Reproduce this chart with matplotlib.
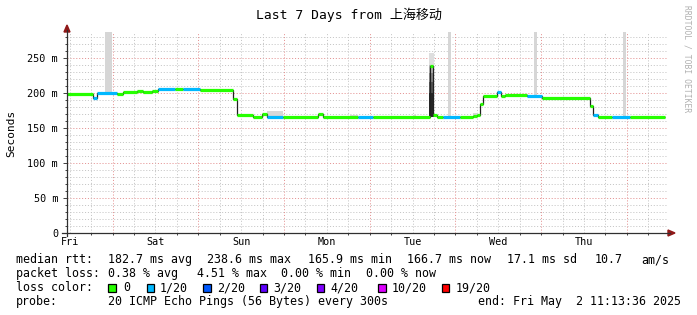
import matplotlib
matplotlib.use("Agg")
import matplotlib.pyplot as plt
from matplotlib.patches import Polygon, Rectangle
import numpy as np

W, H = 697, 315
mono = ['DejaVu Sans Mono', 'Noto Sans CJK SC']
plt.rcParams['font.family'] = mono

# hours since start of graph (Fri Apr 25 11:13:36)
seg_start = [0.0, 7.28, 8.4, 14.0, 15.68, 19.6, 21.28, 23.8, 25.48, 30.24,
             32.48, 37.24, 46.48, 47.6, 52.08, 54.6, 56.0, 60.48, 70.28, 71.68,
             81.48, 85.68, 101.64, 102.48, 103.6, 105.28, 110.04, 113.68, 114.8, 115.64,
             116.48, 120.4, 121.52, 122.64, 128.8, 133.0, 146.44, 147.28, 148.68, 152.6,
             157.64]
seg_median = [199, 193, 200, 199, 202, 203, 202, 203, 205, 205,
              205, 204, 192, 169, 166, 170, 165, 165, 170, 165,
              165, 165, 238, 168, 165, 165, 165, 167, 169, 184,
              195, 202, 195, 197, 196, 193, 181, 169, 166, 166,
              166]
seg_loss = [0, 1, 1, 0, 0, 0, 0, 0, 1, 0,
            1, 0, 0, 0, 0, 0, 1, 0, 0, 0,
            1, 0, 0, 0, 0, 1, 0, 0, 0, 0,
            0, 1, 0, 0, 1, 0, 0, 1, 0, 1,
            0]
data_end = 167.5

# smoke (spread of pings)
smoke_start = [10.64, 106.6, 130.8, 155.7, 101.4, 101.4, 101.4, 101.4, 101.4,
               56.0, 79.2, 96.8, 113.7, 33.0]
smoke_end = [12.5, 107.5, 131.6, 156.5, 102.8, 102.8, 102.8, 102.8, 102.8,
             60.5, 81.5, 97.6, 115.0, 35.0]
smoke_lo = [199, 165, 196, 166, 240, 228, 215, 200, 165,
            165, 165, 165, 167, 205]
smoke_hi = [300, 300, 300, 300, 257, 240, 228, 215, 200,
            174, 168.5, 168.5, 171, 207.5]
smoke_shade = ['#d6d6d6', '#d6d6d6', '#d6d6d6', '#d6d6d6', '#dedede', '#b8b8b8',
               '#8a8a8a', '#565656', '#262626',
               '#d8d8d8', '#d8d8d8', '#d8d8d8', '#d8d8d8', '#dcdcdc']

loss_colors = ['#26ff00', '#00b8ff', '#0059ff', '#5e00ff', '#7e00ff', '#dd00ff', '#ff0000']
loss_labels = ['0', '1/20', '2/20', '3/20', '4/20', '10/20', '19/20']
day_labels = ['Fri', 'Sat', 'Sun', 'Mon', 'Tue', 'Wed', 'Thu']
y_ticks = [0, 50, 100, 150, 200, 250]
y_ticklabels = ['0', '50 m', '100 m', '150 m', '200 m', '250 m']


def fx(px):
    return px / W


def fy(py):
    return 1 - py / H


fig = plt.figure(figsize=(W / 100, H / 100), dpi=100)
fig.patch.set_facecolor('white')
ax = fig.add_axes([fx(67), fy(233), (667 - 67) / W, (233 - 32) / H])
ax.set_xlim(0, 168)
ax.set_ylim(0, 287)
for s in ax.spines.values():
    s.set_visible(False)

# grid
noon0 = 0.773
sixes = np.arange(noon0, 168, 6)
mids = np.arange(noon0 + 12, 168, 24)
gkw = dict(linewidth=0.7, linestyle=(0, (1.1, 1.9)), zorder=0)
for v in np.arange(10, 287, 10):
    c = '#e59595' if v % 50 == 0 else '#c6c6c6'
    ax.axhline(v, color=c, **gkw)
for h in sixes:
    is_mid = np.min(np.abs(mids - h)) < 0.01
    ax.axvline(h, color='#e59595' if is_mid else '#c6c6c6', **gkw)

# smoke
ax.bar(smoke_start, np.array(smoke_hi) - np.array(smoke_lo), bottom=smoke_lo,
       width=np.array(smoke_end) - np.array(smoke_start), align='edge',
       color=smoke_shade, linewidth=0, zorder=1)

# median line
edges = seg_start + [data_end]
ax.stairs(seg_median, edges, baseline=None, color='#202020', linewidth=0.9, zorder=2)
ax.hlines(seg_median, seg_start, edges[1:], colors=[loss_colors[i] for i in seg_loss],
          linewidth=2.3, capstyle='butt', zorder=3)

# ticks
ax.set_yticks(y_ticks)
ax.set_yticklabels(y_ticklabels)
ax.set_yticks(np.arange(10, 287, 10), minor=True)
ax.tick_params(axis='y', which='major', length=3, width=0.7, color='#404040',
               pad=3.4, labelsize=7.3)
ax.tick_params(axis='y', which='minor', length=1.5, width=0.7, color='#404040')
ax.set_xticks(noon0 + 24 * np.arange(7))
ax.set_xticklabels(day_labels)
ax.set_xticks(sixes, minor=True)
ax.tick_params(axis='x', which='major', length=0, pad=3.2, labelsize=7.3)
ax.tick_params(axis='x', which='minor', length=1.5, width=0.7, color='#404040')

# axes lines and arrows
fig.add_artist(plt.Line2D([fx(67), fx(67)], [fy(236), fy(30)], color='#303030', linewidth=0.9))
fig.add_artist(plt.Line2D([fx(62), fx(670)], [fy(233), fy(233)], color='#303030', linewidth=0.9))
fig.add_artist(Polygon([[fx(64), fy(32)], [fx(70), fy(32)], [fx(67), fy(25)]],
                       closed=True, color='#901818', transform=fig.transFigure))
fig.add_artist(Polygon([[fx(668), fy(230)], [fx(668), fy(236)], [fx(675), fy(233)]],
                       closed=True, color='#901818', transform=fig.transFigure))

# titles
fig.text(fx(348.5), fy(18.5), 'Last 7 Days from 上海移动', ha='center', va='baseline',
         fontsize=9.4, family=mono)
fig.text(fx(11), fy(133), 'Seconds', rotation=90, ha='center', va='center', fontsize=8)
fig.text(fx(687), fy(5), 'RRDTOOL / TOBI OETIKER', rotation=270, ha='center', va='top',
         fontsize=5.8, color='#b0b0b0')

# legend
lfs = 8.4
rows = [263.3, 277.3, 291.3, 305.3]
row1 = [(16, 'median rtt:'), (107.7, '182.7 ms avg'), (207.3, '238.6 ms max'),
        (307.7, '165.9 ms min'), (407.3, '166.7 ms now'), (506.7, '17.1 ms sd'),
        (594.3, '10.7'), (641.7, 'am/s')]
row2 = [(16, 'packet loss:'), (107.7, '0.38 % avg'), (197, '4.51 % max'),
        (281, '0.00 % min'), (366, '0.00 % now')]
row4 = [(16, 'probe:'), (107.7, '20 ICMP Echo Pings (56 Bytes) every 300s'),
        (478.3, 'end: Fri May  2 11:13:36 2025')]
for y, row in zip([rows[0], rows[1], rows[3]], [row1, row2, row4]):
    for x, t in row:
        fig.text(fx(x), fy(y), t, ha='left', va='baseline', fontsize=lfs)

fig.text(fx(16), fy(rows[2]), 'loss color:', ha='left', va='baseline', fontsize=lfs)
sq_x = [108.3, 146.7, 203.3, 260, 316.7, 378.3, 441.7]
lab_x = [123.3, 159.3, 216.7, 273.3, 330, 391.7, 456]
for c, lab, sx, lx in zip(loss_colors, loss_labels, sq_x, lab_x):
    fig.add_artist(Rectangle((fx(sx), fy(291.7)), 7.3 / W, 7.3 / H, facecolor=c,
                             edgecolor='black', linewidth=0.9, transform=fig.transFigure))
    fig.text(fx(lx), fy(rows[2]), lab, ha='left', va='baseline', fontsize=lfs)

fig.savefig('out.png', dpi=100, facecolor='white')
